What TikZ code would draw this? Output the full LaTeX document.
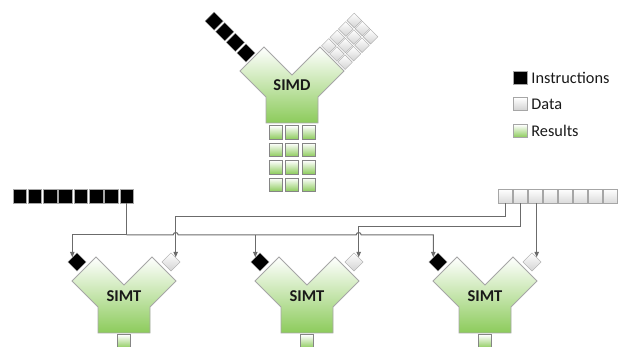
\documentclass[tikz,border=0pt]{standalone}
\usepackage{fontspec}
\setmainfont{Carlito}
\usepackage{xcolor}
\usepackage{tikz}
\usetikzlibrary{arrows.meta,positioning,shapes.geometric,calc}
\definecolor{SimGreen}{HTML}{8CCB5B}
\definecolor{SimLine}{HTML}{6B6B6B}
\definecolor{SimEdge}{HTML}{A6A6A6}
\definecolor{SimGray}{HTML}{D2D2D2}
\tikzset{
  yshade/.style={draw=SimEdge,line width=0.8pt,top color=white,middle color=SimGreen!38!white,bottom color=SimGreen},
  ybody/.pic={\path[yshade] (-28,0) -- (0,28) -- (28,0) -- (52,24) -- (26,50) -- (26,76) -- (-26,76) -- (-26,50) -- (-52,24) -- cycle;},
  ylabel/.style={font=\bfseries\fontsize{16.5}{18}\selectfont,text=black!90},
  insdia/.style={diamond,aspect=1,inner sep=0pt,draw=SimEdge,fill=black,minimum width=18.4pt,minimum height=18.4pt},
  datdia/.style={insdia,fill=none,top color=white,bottom color=SimGray},
  smalldat/.style={datdia,minimum width=14.8pt,minimum height=14.8pt},
  qsq/.style={inner sep=0pt,draw=SimEdge,minimum width=13.5pt,minimum height=14pt},
  ressq/.style={inner sep=0pt,draw=SimEdge!80!black,line width=0.8pt,top color=white,bottom color=SimGreen,minimum width=13pt,minimum height=13.5pt},
  legsq/.style={inner sep=0pt,draw=SimEdge,minimum width=14pt,minimum height=12.6pt},
  legtext/.style={font=\fontsize{16.3}{18}\selectfont,inner sep=0pt,text=black!90},
  feed/.style={draw=SimLine,line width=1pt},
  feedarrow/.style={feed,-{Triangle[length=5.5pt,width=4.5pt]}}
}
\begin{document}
\begin{tikzpicture}[x=1pt,y=-1pt]
\useasboundingbox (0,0) rectangle (625,347);
\clip (0,0) rectangle (625,347);

% SIMD unit
\pic at (292,47) {ybody};
\node[ylabel] (simd) at (292,85) {SIMD};
\coordinate (simdL) at (252,59);
\coordinate (simdR) at (332,59);
\foreach \i in {0,...,3}
  \node[insdia] (si\i) at ($(simdL)+({-0.7071*(8.5+15*\i)},{-0.7071*(8.5+15*\i)})$) {};
\foreach \a [count=\k] in {-1,0,1}
  \foreach \d in {0,...,3}
    \node[smalldat] (sd\k\d) at ($(simdR)+({0.7071*(7+12*\d+11.5*\a)},{0.7071*(11.5*\a-7-12*\d)})$) {};
\foreach \c [count=\k] in {-1,0,1}
  \foreach \r in {0,...,3}
    \node[ressq] (sr\k\r) at ({292+16.5*\c},{132.5+17.4*\r}) {};

% legend
\node[legsq,fill=black] (lgins) at (520.5,78) {};
\node[legtext,right=3.5pt of lgins] (lgins-t) {Instructions};
\node[legsq,top color=white,bottom color=SimGray] (lgdat) at (520.5,104) {};
\node[legtext,right=3.5pt of lgdat] (lgdat-t) {Data};
\node[legsq,top color=white,bottom color=SimGreen] (lgres) at (520.5,131) {};
\node[legtext,right=3.5pt of lgres] (lgres-t) {Results};

% queues
\foreach \i in {1,...,8}
  \node[qsq,fill=black] (iq\i) at ({19.5+15.3*(\i-1)},196.3) {};
\foreach \i in {1,...,8}
  \node[qsq,top color=white,bottom color=SimGray!80] (dq\i) at ({505+15*(\i-1)},196) {};

% SIMT units
\foreach \cx [count=\n] in {124,307,485} {
  \pic at (\cx,257) {ybody};
  \node[ylabel] (simt\n) at (\cx,296) {SIMT};
  \node[insdia] (ins\n) at ({\cx-47},262) {};
  \node[datdia] (dat\n) at ({\cx+47},262) {};
  \node[ressq] (res\n) at (\cx,341.5) {};
}

% feeds
\coordinate (ibus) at (0,235);
\coordinate (dbus1) at (0,217);
\coordinate (dbus2) at (0,227);
\coordinate (hop1) at (dat1.north east |- ibus);
\coordinate (hop2) at (dat2.north east |- ibus);
\draw[feed] (iq8.south) -- (iq8.south |- ibus);
\draw[feedarrow] (iq8.south |- ibus) -- (ins1.north west |- ibus) -- (ins1.north west);
\draw[feedarrow] (iq8.south |- ibus) -- ([xshift=-2.5pt]hop1) arc[start angle=180,end angle=0,radius=2.5pt]
  -- ([xshift=-2.5pt]hop2) arc[start angle=180,end angle=0,radius=2.5pt]
  -- (ins3.north west |- ibus) -- (ins3.north west);
\draw[feedarrow] (ins2.north west |- ibus) -- (ins2.north west);
\draw[feedarrow] (dq1.south) -- (dq1.south |- dbus1) -- (dat1.north east |- dbus1) -- (dat1.north east);
\draw[feedarrow] (dq2.south) -- (dq2.south |- dbus2) -- (dat2.north east |- dbus2) -- (dat2.north east);
\draw[feedarrow] (dat3.north east |- dq3.south) -- (dat3.north east);
\end{tikzpicture}
\end{document}
